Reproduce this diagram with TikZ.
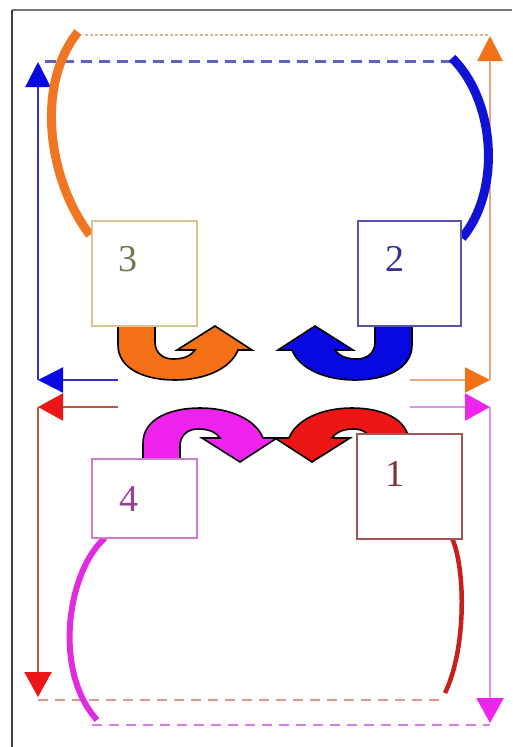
\documentclass[tikz,border=0pt]{standalone}
\usepackage{fontspec}
\setmainfont{Liberation Serif}
\usetikzlibrary{arrows.meta}
\definecolor{orFill}{RGB}{243,112,22}
\definecolor{blFill}{RGB}{8,8,224}
\definecolor{mgFill}{RGB}{238,36,238}
\definecolor{rdFill}{RGB}{236,22,22}
\definecolor{orLine}{RGB}{228,168,122}
\definecolor{orDot}{RGB}{236,178,132}
\definecolor{orArc}{RGB}{240,118,36}
\definecolor{blLine}{RGB}{50,50,200}
\definecolor{blDash}{RGB}{96,96,196}
\definecolor{blArc}{RGB}{18,18,214}
\definecolor{rdLine}{RGB}{192,84,72}
\definecolor{rdDash}{RGB}{226,150,140}
\definecolor{rdArc}{RGB}{200,30,30}
\definecolor{mgLine}{RGB}{214,150,234}
\definecolor{mgDash}{RGB}{216,122,234}
\definecolor{mgArc}{RGB}{222,44,222}
\definecolor{bxThree}{RGB}{214,196,142}
\definecolor{bxTwo}{RGB}{84,84,172}
\definecolor{bxFour}{RGB}{204,126,204}
\definecolor{bxOne}{RGB}{164,84,84}
\definecolor{txThree}{RGB}{112,122,82}
\definecolor{txTwo}{RGB}{52,52,140}
\definecolor{txFour}{RGB}{152,64,152}
\definecolor{txOne}{RGB}{124,52,52}
\newcommand{\uturnpath}{(118,325) -- (118,345) .. controls (118,369) and (145,380) .. (175,380) .. controls (206,380) and (231,368) .. (238,350) -- (252,350) -- (215,326) -- (177,350) -- (195,350) .. controls (190,357) and (182,359) .. (173,359) .. controls (162,359) and (155,352) .. (155,342) -- (155,325) -- cycle}
\begin{document}
\begin{tikzpicture}[x=1pt,y=-1pt,
  frameline/.style={draw={rgb,255:red,64;green,64;blue,64}, line width=2.4pt},
  topline/.style={draw={rgb,255:red,120;green,120;blue,120}, line width=2pt},
  thin/.style={line width=2.2pt},
  tipO/.style={-{Triangle[length=25pt,width=25pt,color=orFill]}},
  tipB/.style={-{Triangle[length=25pt,width=25pt,color=blFill]}},
  tipR/.style={-{Triangle[length=25pt,width=27pt,color=rdFill]}},
  tipM/.style={-{Triangle[length=25pt,width=27pt,color=mgFill]}},
  dsh/.style={line width=2.6pt, dash pattern=on 10pt off 7pt},
  arcline/.style={line cap=butt},
  blockarrow/.style={draw=black, line width=1.6pt, line join=miter},
  boxstyle/.style={draw, fill=white, line width=1.8pt, inner sep=0pt, anchor=north west},
  num/.style={font=\fontsize{38}{38}\selectfont, inner sep=0pt}]
\useasboundingbox (0,0) rectangle (512,747);
\fill[white] (0,0) rectangle (512,747);
% frame
\coordinate (fbl) at (12,747);
\coordinate (ftl) at (12,10);
\coordinate (ftr) at (512,10);
\draw[topline] (ftl) -- (ftr);
\draw[frameline] (fbl) -- (ftl);
% coordinates
\coordinate (oDotA) at (85,35);
\coordinate (oDotB) at (490,35);
\coordinate (bDashA) at (45,61);
\coordinate (bDashB) at (460,61);
\coordinate (rDashA) at (38,700);
\coordinate (rDashB) at (440,700);
\coordinate (mDashA) at (92,725);
\coordinate (mDashB) at (490,725);
\coordinate (bStart) at (118,380);
\coordinate (bCorner) at (38,380);
\coordinate (bTop) at (38,62);
\coordinate (oStart) at (410,380);
\coordinate (oCorner) at (490,380);
\coordinate (oTop) at (490,36);
\coordinate (rStart) at (118,407);
\coordinate (rCorner) at (38,407);
\coordinate (rBot) at (38,697);
\coordinate (mStart) at (410,407);
\coordinate (mCorner) at (490,407);
\coordinate (mBot) at (490,723);
% dashed lines
\draw[orDot, line width=1.8pt, dash pattern=on 3pt off 2pt] (oDotA) -- (oDotB);
\draw[blDash, dsh, line width=3pt, dash pattern=on 11pt off 7pt] (bDashA) -- (bDashB);
\draw[rdDash, dsh, line width=2.4pt] (rDashA) -- (rDashB);
\draw[mgDash, dsh, line width=2.8pt] (mDashA) -- (mDashB);
% L arrows
\draw[thin, blLine, tipB] (bStart) -- (bCorner);
\draw[thin, blLine, tipB] (bCorner) -- (bTop);
\draw[thin, orLine, tipO] (oStart) -- (oCorner);
\draw[thin, orLine, tipO] (oCorner) -- (oTop);
\draw[thin, rdLine, tipR] (rStart) -- (rCorner);
\draw[thin, rdLine, tipR] (rCorner) -- (rBot);
\draw[thin, mgLine, tipM] (mStart) -- (mCorner);
\draw[thin, mgLine, tipM] (mCorner) -- (mBot);
% arcs
\coordinate (oArcA) at (90,235);
\coordinate (oArcB) at (78,32);
\coordinate (bArcA) at (452,58);
\coordinate (bArcB) at (462,238);
\coordinate (rArcA) at (452,538);
\coordinate (rArcB) at (445,693);
\coordinate (mArcA) at (105,538);
\coordinate (mArcB) at (97,720);
\draw[orArc, line width=9pt, arcline] (oArcA) .. controls (48,180) and (35,85) .. (oArcB);
\draw[blArc, line width=9pt, arcline] (bArcA) .. controls (495,100) and (502,190) .. (bArcB);
\draw[rdArc, line width=4.5pt, arcline] (rArcA) .. controls (466,570) and (466,650) .. (rArcB);
\draw[mgArc, line width=6pt, arcline] (mArcA) .. controls (68,570) and (52,670) .. (mArcB);
% block u-turn arrows
\draw[blockarrow, fill=orFill] \uturnpath;
\begin{scope}[shift={(530,0)}, xscale=-1]
\draw[blockarrow, fill=blFill] \uturnpath;
\end{scope}
\begin{scope}[shift={(25,788)}, yscale=-1]
\draw[blockarrow, fill=mgFill] \uturnpath;
\end{scope}
\begin{scope}[shift={(527,788)}, xscale=-1, yscale=-1]
\draw[blockarrow, fill=rdFill] \uturnpath;
\end{scope}
% boxes
\node[boxstyle, draw=bxThree, minimum width=105pt, minimum height=105pt] (box3) at (91,220) {};
\node[boxstyle, draw=bxTwo, minimum width=103pt, minimum height=105pt] (box2) at (357,220) {};
\node[boxstyle, draw=bxFour, minimum width=105pt, minimum height=79pt] (box4) at (91,458) {};
\node[boxstyle, draw=bxOne, minimum width=105pt, minimum height=105pt] (box1) at (356,433) {};
% labels
\node[num, text=txThree] (n3) at (128,259) {3};
\node[num, text=txTwo] (n2) at (395,259) {2};
\node[num, text=txFour] (n4) at (129,499) {4};
\node[num, text=txOne] (n1) at (395,474) {1};
\end{tikzpicture}
\end{document}
